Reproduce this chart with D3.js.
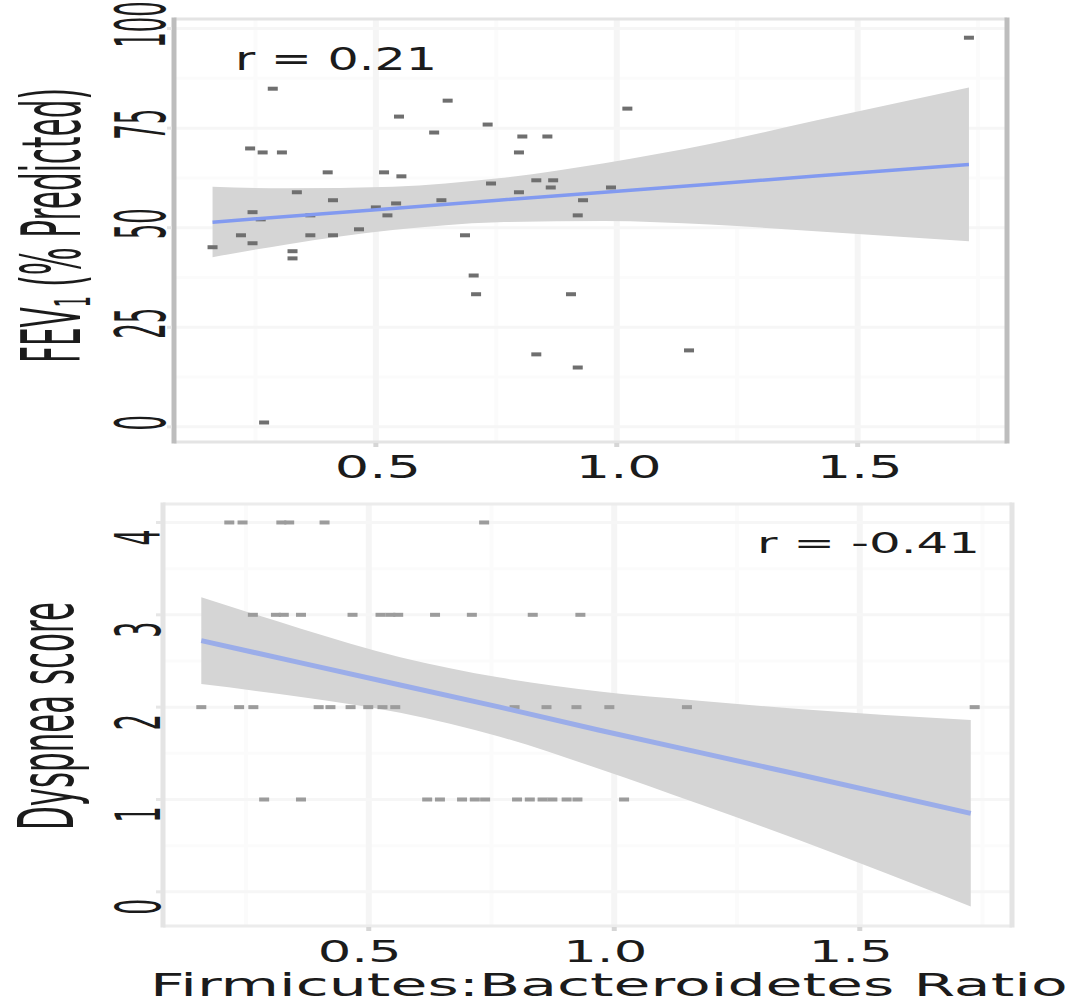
<!DOCTYPE html>
<html>
<head>
<meta charset="utf-8">
<title>F:B ratio vs FEV1 and dyspnea</title>
<script src="https://cdn.jsdelivr.net/npm/d3@7"></script>
<style>
    html, body { margin: 0; padding: 0; background: #fff; }
    svg { display: block; }
    text { font-family: "DejaVu Sans", sans-serif; fill: #1b1b1b; }
</style>
</head>
<body>
<script>

// ---- data ----

// top panel: FEV1 (% predicted) against F:B ratio
var fevRatio = [0.286, 0.649, 1.022, 0.548, 0.732, 0.621, 0.804, 0.856, 0.239, 0.265,
    0.305, 0.797, 0.400, 0.517, 0.553, 0.739, 0.833, 0.868, 0.863, 0.336,
    0.797, 0.411, 0.636, 0.930, 0.542, 0.244, 0.500, 0.919, 0.524, 0.261,
    0.364, 0.465, 0.220, 0.364, 0.411, 0.685, 0.244, 0.161, 0.327, 0.327,
    0.703, 0.708, 0.905, 0.833, 0.919, 0.268, 1.731, 0.988, 1.150];
var fevValue = [84.9, 81.9, 79.9, 77.9, 75.9, 73.9, 72.9, 72.9, 69.9, 68.9,
    68.9, 68.9, 63.9, 63.9, 62.9, 61.1, 61.9, 61.9, 60.1, 58.9,
    58.9, 56.9, 56.9, 56.9, 56.1, 53.9, 55.1, 53.1, 53.1, 52.1,
    53.1, 49.6, 48.1, 48.1, 48.1, 48.1, 46.1, 45.1, 44.1, 42.3,
    38.0, 33.3, 33.3, 18.2, 14.9, 1.1, 97.7, 60.1, 19.2];

// smoother (lm) line and its confidence band
var fevFitX = [0.161, 0.315, 0.535, 0.754, 0.974, 1.193, 1.413, 1.731];
var fevFit = [51.4, 52.8, 54.8, 56.9, 58.9, 60.9, 63.0, 65.9];
var fevUpper = [60.3, 59.9, 60.3, 62.4, 66.2, 71.0, 76.9, 85.2];
var fevLower = [42.6, 45.8, 49.4, 51.4, 51.7, 50.8, 49.1, 46.6];

// bottom panel: dyspnea score against F:B ratio
var dysRatio = [0.216, 0.243, 0.322, 0.338, 0.410, 0.735,
    0.264, 0.311, 0.327, 0.362, 0.467, 0.524, 0.544, 0.560, 0.635, 0.710, 0.834, 0.931,
    0.159, 0.236, 0.265, 0.398, 0.422, 0.463, 0.499, 0.528, 0.554, 0.797, 0.862, 0.923, 0.990, 1.148, 1.734,
    0.287, 0.362, 0.619, 0.645, 0.690, 0.716, 0.737, 0.802, 0.828, 0.854, 0.874, 0.903, 0.925, 1.020];
var dysScore = [4, 4, 4, 4, 4, 4,
    3, 3, 3, 3, 3, 3, 3, 3, 3, 3, 3, 3,
    2, 2, 2, 2, 2, 2, 2, 2, 2, 2, 2, 2, 2, 2, 2,
    1, 1, 1, 1, 1, 1, 1, 1, 1, 1, 1, 1, 1, 1];

var dysFitX = [0.159, 0.362, 0.564, 0.767, 0.970, 1.173, 1.376, 1.726];
var dysFit = [2.72, 2.48, 2.24, 2.00, 1.75, 1.51, 1.27, 0.85];
var dysUpper = [3.19, 2.85, 2.54, 2.32, 2.17, 2.07, 1.98, 1.86];
var dysLower = [2.25, 2.11, 1.94, 1.68, 1.33, 0.95, 0.56, -0.16];

// axes
var xBreaks = [0.5, 1.0, 1.5];
var xMinor = [0.25, 0.75, 1.25, 1.75];
var xTickLabels = ["0.5", "1.0", "1.5"];
var fevBreaks = [0, 25, 50, 75, 100];
var fevMinor = [12.5, 37.5, 62.5, 87.5];
var fevTickLabels = ["0", "25", "50", "75", "100"];
var dysBreaks = [0, 1, 2, 3, 4];
var dysMinor = [0.5, 1.5, 2.5, 3.5];
var dysTickLabels = ["0", "1", "2", "3", "4"];

var fevCorr = "r = 0.21";
var dysCorr = "r = -0.41";
var xTitle = "Firmicutes:Bacteroidetes Ratio";
var dysTitle = "Dyspnea score";

// ---- drawing ----

var width = 1074, height = 1005;
var BASE = 20;              // font size texts are set at before stretching
var CAP = 0.729 * BASE;     // DejaVu digit / cap height at that size

var svg = d3.select("body").append("svg")
    .attr("width", width)
    .attr("height", height);

// the picture was resized unevenly, so every text is stretched to its own box
function flatText(g, str, left, baseline, w, h) {
    var t = g.append("text").attr("font-size", BASE).text(str);
    var len = t.node().getComputedTextLength();
    t.attr("transform", "translate(" + left + "," + baseline + ") scale(" + (w / len) + "," + (h / CAP) + ")");
    return t;
}

// rotated text reading upwards; y0 = where it starts (bottom), bx = baseline x
function upText(g, parts, bx, y0, len, h) {
    var t = g.append("text").attr("font-size", BASE);
    parts.forEach(function (p) {
        var s = t.append("tspan").text(p.s);
        if (p.size) s.attr("font-size", p.size);
        if (p.dy) s.attr("dy", p.dy);
    });
    var l = t.node().getComputedTextLength();
    t.attr("transform", "translate(" + bx + "," + y0 + ") scale(" + (h / CAP) + "," + (len / l) + ") rotate(-90)");
    return t;
}

function drawPanel(cfg) {
    var g = svg.append("g");
    var x = d3.scaleLinear().domain([0.081, 1.81]).range([cfg.left, cfg.right]);
    var y = d3.scaleLinear().domain(cfg.yDomain).range([cfg.bottom, cfg.top]);

    // grid, minor first -- both nearly white in the original
    g.selectAll(".vminor").data(xMinor.filter(function (d) { return x(d) < cfg.right; }))
        .enter().append("line")
        .attr("x1", function (d) { return x(d); }).attr("x2", function (d) { return x(d); })
        .attr("y1", cfg.top).attr("y2", cfg.bottom)
        .attr("stroke", "#fbfbfb").attr("stroke-width", 4);
    g.selectAll(".hminor").data(cfg.yMinor)
        .enter().append("line")
        .attr("x1", cfg.left).attr("x2", cfg.right)
        .attr("y1", function (d) { return y(d); }).attr("y2", function (d) { return y(d); })
        .attr("stroke", "#fbfbfb").attr("stroke-width", 3);
    g.selectAll(".vmajor").data(xBreaks)
        .enter().append("line")
        .attr("x1", function (d) { return x(d); }).attr("x2", function (d) { return x(d); })
        .attr("y1", cfg.top).attr("y2", cfg.bottom)
        .attr("stroke", "#f5f5f5").attr("stroke-width", 6);
    g.selectAll(".hmajor").data(cfg.yBreaks)
        .enter().append("line")
        .attr("x1", cfg.left).attr("x2", cfg.right)
        .attr("y1", function (d) { return y(d); }).attr("y2", function (d) { return y(d); })
        .attr("stroke", "#f6f6f6").attr("stroke-width", 3);

    // confidence band + fitted line
    var band = d3.area()
        .x(function (d, i) { return x(cfg.fitX[i]); })
        .y0(function (d, i) { return y(cfg.lower[i]); })
        .y1(function (d, i) { return y(cfg.upper[i]); })
        .curve(d3.curveMonotoneX);
    g.append("path").datum(cfg.fitX)
        .attr("d", band)
        .attr("fill", "#d5d5d5");

    // points (they came out as short dashes after the resize)
    g.selectAll(".pt").data(cfg.px)
        .enter().append("rect")
        .attr("x", function (d) { return x(d) - 5; })
        .attr("y", function (d, i) { return y(cfg.py[i]) - 2; })
        .attr("width", 10)
        .attr("height", 4)
        .attr("fill", cfg.pointColor);

    var fitLine = d3.line()
        .x(function (d, i) { return x(cfg.fitX[i]); })
        .y(function (d, i) { return y(cfg.fit[i]); });
    g.append("path").datum(cfg.fitX)
        .attr("d", fitLine)
        .attr("fill", "none")
        .attr("stroke", cfg.lineColor)
        .attr("stroke-width", cfg.lineWidth);

    // panel border: the sides came out darker/wider than top and bottom
    g.append("line").attr("x1", cfg.left).attr("x2", cfg.right).attr("y1", cfg.top).attr("y2", cfg.top)
        .attr("stroke", cfg.hBorder).attr("stroke-width", 3);
    g.append("line").attr("x1", cfg.left).attr("x2", cfg.right).attr("y1", cfg.bottom).attr("y2", cfg.bottom)
        .attr("stroke", cfg.hBorder).attr("stroke-width", 3);
    g.append("line").attr("x1", cfg.left).attr("x2", cfg.left).attr("y1", cfg.top - 1.5).attr("y2", cfg.bottom + 1.5)
        .attr("stroke", cfg.vBorder).attr("stroke-width", 5);
    g.append("line").attr("x1", cfg.right).attr("x2", cfg.right).attr("y1", cfg.top - 1.5).attr("y2", cfg.bottom + 1.5)
        .attr("stroke", cfg.vBorder).attr("stroke-width", 5);

    // ticks
    g.selectAll(".xtick").data(xBreaks)
        .enter().append("line")
        .attr("x1", function (d) { return x(d); }).attr("x2", function (d) { return x(d); })
        .attr("y1", cfg.bottom + 1).attr("y2", cfg.bottom + 5)
        .attr("stroke", "#d6d6d6").attr("stroke-width", 5);
    g.selectAll(".ytick").data(cfg.yBreaks)
        .enter().append("line")
        .attr("x1", cfg.left - 7).attr("x2", cfg.left - 2)
        .attr("y1", function (d) { return y(d); }).attr("y2", function (d) { return y(d); })
        .attr("stroke", "#e6e6e6").attr("stroke-width", 3);

    // tick labels
    xBreaks.forEach(function (d, i) {
        var cx = x(d) + cfg.xLabShift;
        flatText(g, xTickLabels[i], cx - cfg.xLabW / 2, cfg.xLabBase, cfg.xLabW, cfg.xLabH);
    });
    cfg.yBreaks.forEach(function (d, i) {
        var lab = cfg.yTickLabels[i];
        var len = cfg.yLabPerChar * lab.length;
        upText(g, [{s: lab}], cfg.yLabBase, y(d) + cfg.yLabShift + len / 2, len, cfg.yLabH);
    });

    // correlation note
    flatText(g, cfg.corr, cfg.corrBox[0], cfg.corrBox[1], cfg.corrBox[2], cfg.corrBox[3]);

    // y title
    upText(g, cfg.title, cfg.titleBox[0], cfg.titleBox[1], cfg.titleBox[2], cfg.titleBox[3]);

    return g;
}

drawPanel({
    left: 174, right: 1007, top: 19, bottom: 442,
    yDomain: [-3.8, 102.4],
    yBreaks: fevBreaks, yMinor: fevMinor, yTickLabels: fevTickLabels,
    px: fevRatio, py: fevValue,
    fitX: fevFitX, fit: fevFit, upper: fevUpper, lower: fevLower,
    pointColor: "#6f6f6f", lineColor: "#829af0", lineWidth: 3.5,
    hBorder: "#e4e4e4", vBorder: "#bdbdbd",
    xLabShift: 2, xLabW: 86, xLabH: 23, xLabBase: 478,
    yLabBase: 165, yLabShift: -4, yLabPerChar: 15.5, yLabH: 51,
    corr: fevCorr, corrBox: [235, 70, 202, 23],
    title: [{s: "FEV"}, {s: "1", size: 12, dy: 2.5}, {s: " (% Predicted)", dy: -2.5}],
    titleBox: [80, 363, 275, 60]
});

drawPanel({
    left: 163, right: 1012, top: 504, bottom: 926,
    yDomain: [-0.37, 4.2],
    yBreaks: dysBreaks, yMinor: dysMinor, yTickLabels: dysTickLabels,
    px: dysRatio, py: dysScore,
    fitX: dysFitX, fit: dysFit, upper: dysUpper, lower: dysLower,
    pointColor: "#9c9c9c", lineColor: "#9bade9", lineWidth: 5,
    hBorder: "#ececec", vBorder: "#e4e4e4",
    xLabShift: -9, xLabW: 84, xLabH: 22, xLabBase: 962,
    yLabBase: 160, yLabShift: 15, yLabPerChar: 16, yLabH: 46,
    corr: dysCorr, corrBox: [757, 553, 223, 21],
    title: [{s: dysTitle}],
    titleBox: [73, 830, 228, 56]
});

// shared x title at the bottom, kept (with its descent box) inside the page
flatText(svg, xTitle, 150, 996, 918, 23);

</script>
</body>
</html>
